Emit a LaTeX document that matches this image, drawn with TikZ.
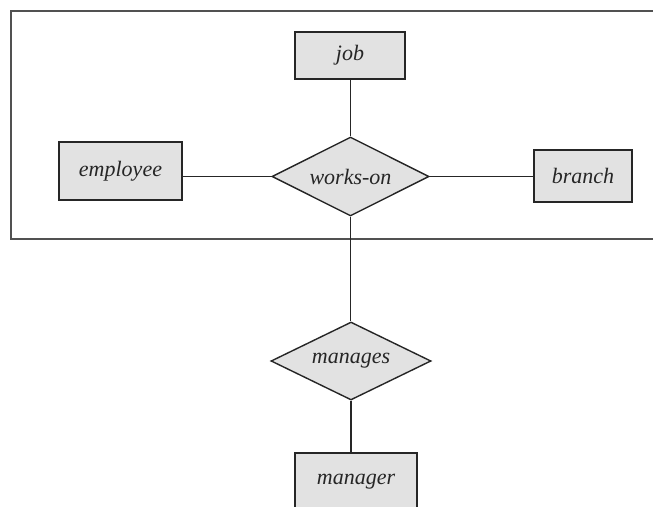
\documentclass[tikz,border=0pt]{standalone}
\usepackage{fontspec}
\setmainfont{Liberation Serif}
\usetikzlibrary{shapes.geometric}
\definecolor{boxfill}{HTML}{E2E2E2}
\definecolor{edgecol}{HTML}{262626}
\begin{document}
\begin{tikzpicture}[x=1pt,y=-1pt,
  lbl/.style={font=\fontsize{22}{26}\selectfont\itshape, text=edgecol},
  entity/.style={lbl, draw=edgecol, line width=1.4pt, fill=boxfill, inner sep=0pt},
  relation/.style={lbl, diamond, aspect=2, draw=edgecol, line width=1.4pt, fill=boxfill, inner sep=0pt},
  link/.style={draw=edgecol, line width=1.4pt}]
\clip (0,0) rectangle (653,506);
\fill[white] (0,0) rectangle (653,506);
\draw[draw=edgecol!80, line width=1.8pt] (11,11) rectangle (670,239);
\node[entity, minimum width=110pt, minimum height=47pt] (job) at (350,55.5) {job};
\node[entity, minimum width=123pt, minimum height=58pt] (emp) at (120.5,171) {employee};
\node[entity, minimum width=98pt, minimum height=52pt] (br) at (583,176) {branch};
\node[relation, minimum width=157pt, minimum height=79pt] (wo) at (350.5,176.5) {works-on};
\node[relation, minimum width=160pt, minimum height=78pt] (mg) at (351,361) {manages};
\node[entity, minimum width=122pt, minimum height=58pt] (mgr) at (356,482) {manager};
\draw[link] (job.south -| wo.north) -- (wo.north);
\draw[link] (emp.east |- wo.west) -- (wo.west);
\draw[link] (wo.east) -- (br.west |- wo.east);
\draw[link] (wo.south) -- (wo.south |- mg.north);
\draw[link] (mg.south) -- (mg.south |- mgr.north);
\end{tikzpicture}
\end{document}
